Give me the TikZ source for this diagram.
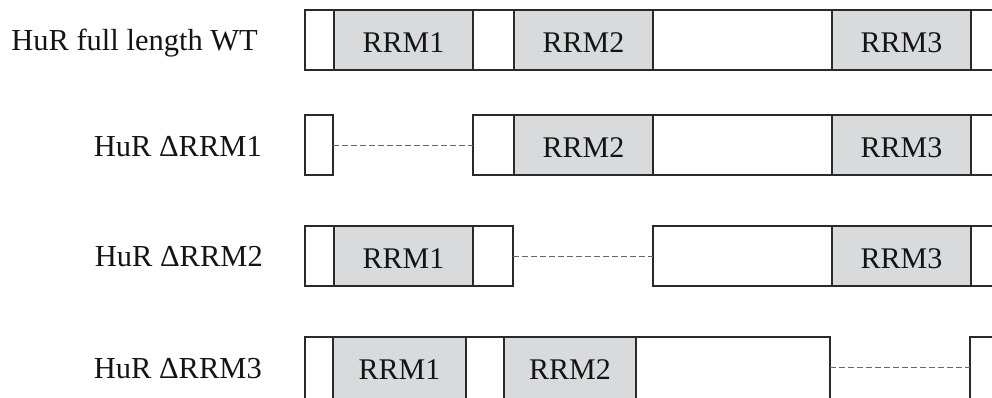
\documentclass[tikz,border=0pt]{standalone}
\usepackage{fontspec}
\setmainfont{Liberation Serif}
\usetikzlibrary{calc}
\definecolor{rrmgray}{HTML}{D9DADC}
\definecolor{edge}{HTML}{2A2A2A}
\begin{document}
\begin{tikzpicture}[x=1pt,y=-1pt,
  segbox/.style={draw=edge,line width=1.6pt,inner sep=0pt,outer sep=0pt,
    minimum height=60pt,anchor=north west,fill=white,
    text height=24.4pt,text depth=0pt,
    font=\fontsize{30}{36}\selectfont,text=black!92},
  rrm/.style={segbox,fill=rrmgray},
  gap/.style={draw=black!60,line width=1pt,dash pattern=on 6pt off 3pt},
  lab/.style={anchor=base east,inner sep=0pt,font=\fontsize{30.5}{36}\selectfont,text=black!92}]
\useasboundingbox (0,0) rectangle (992,397);
\clip (0,0) rectangle (992,397);
% Row 1: full length
\node[segbox,minimum width=29pt]  (a1) at (305,10) {};
\node[rrm,minimum width=139pt]    (a2) at (334,10) {RRM1};
\node[segbox,minimum width=41pt]  (a3) at (473,10) {};
\node[rrm,minimum width=139pt]    (a4) at (514,10) {RRM2};
\node[segbox,minimum width=179pt] (a5) at (653,10) {};
\node[rrm,minimum width=139pt]    (a6) at (832,10) {RRM3};
\node[segbox,minimum width=40pt]  (a7) at (971,10) {};
\node[lab] (la) at (258,50) {HuR full length WT};
% Row 2: delta RRM1
\node[segbox,minimum width=28pt]  (b1) at (305,115) {};
\node[segbox,minimum width=41pt]  (b3) at (473,115) {};
\node[rrm,minimum width=139pt]    (b4) at (514,115) {RRM2};
\node[segbox,minimum width=179pt] (b5) at (653,115) {};
\node[rrm,minimum width=139pt]    (b6) at (832,115) {RRM3};
\node[segbox,minimum width=40pt]  (b7) at (971,115) {};
\draw[gap] (b1.east) -- (b3.west);
\node[lab] (lb) at (262,156) {HuR ΔRRM1};
% Row 3: delta RRM2
\node[segbox,minimum width=29pt]  (c1) at (305,226) {};
\node[rrm,minimum width=139pt]    (c2) at (334,226) {RRM1};
\node[segbox,minimum width=40pt]  (c3) at (473,226) {};
\node[segbox,minimum width=179pt] (c5) at (653,226) {};
\node[rrm,minimum width=139pt]    (c6) at (832,226) {RRM3};
\node[segbox,minimum width=40pt]  (c7) at (971,226) {};
\draw[gap] (c3.east) -- (c5.west);
\node[lab] (lc) at (263,266) {HuR ΔRRM2};
% Row 4: delta RRM3
\node[segbox,minimum width=28pt,minimum height=64pt]  (d1) at (305,337) {};
\node[rrm,minimum width=133pt,minimum height=64pt]    (d2) at (333,337) {};
\node[segbox,minimum width=38pt,minimum height=64pt]  (d3) at (466,337) {};
\node[rrm,minimum width=132pt,minimum height=64pt]    (d4) at (504,337) {};
\node[segbox,minimum width=194pt,minimum height=64pt] (d5) at (636,337) {};
\node[segbox,minimum width=40pt,minimum height=64pt]  (d7) at (970,337) {};
\node[font=\fontsize{30}{36}\selectfont,text=black!92,anchor=base] (t1) at ($(d2.north)+(0,42)$) {RRM1};
\node[font=\fontsize{30}{36}\selectfont,text=black!92,anchor=base] (t2) at ($(d4.north)+(0,42)$) {RRM2};
\coordinate (g1) at ($(d5.north east)+(0,30)$);
\coordinate (g2) at ($(d7.north west)+(0,30)$);
\draw[gap] (g1) -- (g2);
\node[lab] (ld) at (262,378) {HuR ΔRRM3};
\end{tikzpicture}
\end{document}
